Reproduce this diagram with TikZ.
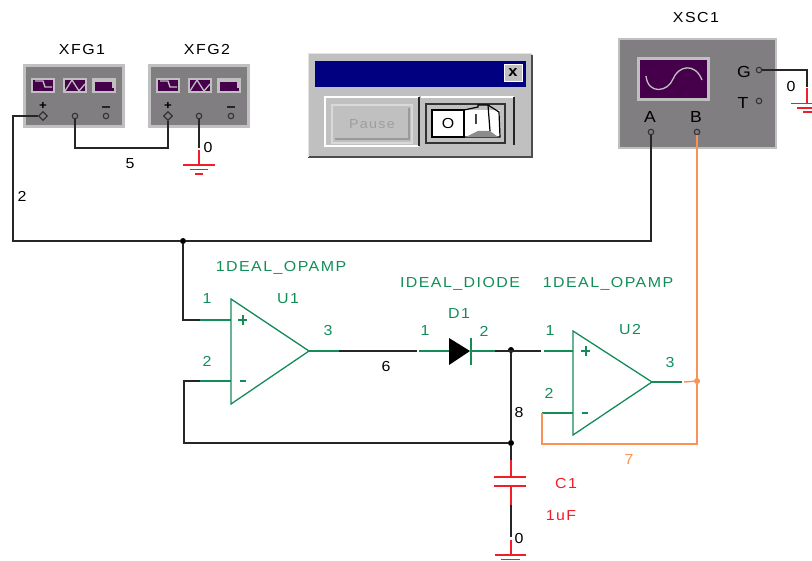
\documentclass[tikz,border=0pt]{standalone}
\usepackage{fontspec}
\usetikzlibrary{shapes.geometric}
\setmainfont[FakeStretch=1.1,LetterSpace=10]{Liberation Sans}
\definecolor{partgreen}{RGB}{20,140,90}
\definecolor{wireorange}{RGB}{250,145,85}
\definecolor{gndred}{RGB}{240,30,40}
\definecolor{boxgray}{RGB}{128,126,128}
\definecolor{framegray}{RGB}{192,192,192}
\definecolor{screenpurple}{RGB}{70,0,75}
\definecolor{titleblue}{RGB}{0,0,128}
\tikzset{
    lbl/.style={inner sep=0pt,font=\fontsize{14.5}{14.5}\selectfont},
    pin/.style={circle,draw=black!80,fill=boxgray,inner sep=0pt,minimum size=5.5pt,line width=1.1pt},
    pinplus/.style={diamond,draw=black!80,fill=boxgray,inner sep=0pt,minimum size=9pt,line width=1.1pt},
    dot/.style={circle,fill=black,inner sep=0pt,minimum size=6pt},
    wire/.style={line width=1.4pt,black!85},
    gwire/.style={line width=1.4pt,partgreen},
    owire/.style={line width=1.4pt,wireorange},
    rwire/.style={line width=1.4pt,gndred},
    part/.style={line width=1.3pt,partgreen},
    genbox/.style={draw=framegray,line width=3pt,fill=boxgray}
}
\begin{document}
\begin{tikzpicture}[x=1pt,y=-1pt]
    \useasboundingbox (0,0) rectangle (812,561);

    % function generators
    \foreach \xo/\name in {0/XFG1,125/XFG2}{
        \draw [genbox] (24+\xo,66) rectangle (123+\xo,127);
        \node [lbl] at (82+\xo,50) {\name};
        \foreach \ico in {32,64,93}{
            \fill [screenpurple] (\ico+\xo,79) rectangle (\ico+22+\xo,92);
            \draw [framegray,line width=1.2pt] (\ico+\xo,79) rectangle (\ico+22+\xo,92);
        }
        \draw [framegray,line width=1.3pt] (35+\xo,81) -- (43+\xo,81) -- (45+\xo,87) -- (52+\xo,87);
        \draw [framegray,line width=1.3pt] (65+\xo,91) -- (72+\xo,80) -- (79+\xo,91) -- (85+\xo,84);
        \draw [framegray,line width=1.3pt] (94+\xo,91) -- (94+\xo,81) -- (113+\xo,81) -- (113+\xo,88);
        \node [lbl,font=\bfseries\fontsize{12}{12}\selectfont] at (43+\xo,106) {+};
        \draw [black!85,line width=1.3pt] (102+\xo,107) -- (110+\xo,107);
    }
    \node [pinplus] (XFG1p) at (43,116) {};
    \node [pin] (XFG1c) at (75,116) {};
    \node [pin] (XFG1m) at (106,116) {};
    \node [pinplus] (XFG2p) at (168,116) {};
    \node [pin] (XFG2c) at (199,116) {};
    \node [pin] (XFG2m) at (231,116) {};

    % run panel
    \fill [framegray] (308,54) rectangle (532,157);
    \draw [black!70,line width=1.3pt] (532,55) -- (532,157) -- (308,157);
    \draw [white!90!black,line width=1pt] (308,157) -- (308,54) -- (532,54);
    \node [fill=titleblue,minimum width=211pt,minimum height=26pt,inner sep=0pt] (title) at (420.5,74) {};
    \node [fill=framegray,draw=white,inner sep=0pt,minimum width=18pt,minimum height=17pt,
        font=\bfseries\fontsize{15}{15}\selectfont] (close) at (513,73) {x};
    \draw [white,line width=1.4pt] (419,97) -| (325,146) -- (419,146);
    \node [draw=white!85!black,fill=framegray,line width=1.5pt,inner sep=0pt,minimum width=80pt,minimum height=38pt,
        text=white!62!black,font=\fontsize{13}{13}\selectfont] (pause) at (372,124) {Pause};
    \draw [black!40,line width=2.5pt] (335,139) -- (409,139) -- (409,108);
    \draw [black!85,line width=1.4pt] (419,97) -- (419,146);
    \draw [white,line width=1.4pt] (421,97) -- (514,97);
    \draw [black!85,line width=1.4pt] (514,97) -- (514,145);
    \draw [black!80,line width=1.4pt,fill=framegray] (426,104) rectangle (505,143);
    \fill [white] (432,110) rectangle (500,137);
    \draw [black,line width=1.2pt] (432,110) rectangle (464,137);
    \draw [black,line width=1.2pt] (464,137) -- (464,110) -- (478,107) -- (478,105) -- (488,105) -- (499,112) -- (500,137) -- (464,137);
    \fill [black!45] (466,137) -- (478,131) -- (490,131) -- (498,137) -- cycle;
    \draw [black,line width=1.2pt] (488,105) -- (490,131);
    \node [lbl] at (448,124) {O};
    \node [lbl] at (476,120) {I};

    % scope
    \fill [boxgray] (619,39) rectangle (776,148);
    \draw [framegray,line width=1.5pt] (619,39) rectangle (776,148);
    \draw [framegray,line width=3pt,fill=screenpurple] (638.5,58.5) rectangle (708,99.5);
    \draw [framegray,line width=1.3pt] (646,76) .. controls (648,95) and (668,92) .. (673,79)
        .. controls (678,66) and (695,62) .. (702,80);
    \node [lbl] at (696,18) {XSC1};
    \node [lbl,font=\fontsize{16}{16}\selectfont] at (744,72) {G};
    \node [lbl,font=\fontsize{16}{16}\selectfont] at (743,103) {T};
    \node [lbl,font=\fontsize{16}{16}\selectfont] at (650,117) {A};
    \node [lbl,font=\fontsize{16}{16}\selectfont] at (696,117) {B};
    \node [pin] (XSCa) at (651,132) {};
    \node [pin] (XSCb) at (697,132) {};
    \node [pin] (XSCg) at (759,70) {};
    \node [pin] (XSCt) at (759,101) {};

    % parts
    \draw [part] (231,299) -- (309,351) -- (231,404) -- cycle;
    \draw [part] (573,331) -- (652,382) -- (573,435) -- cycle;
    \foreach \ax/\ay in {243/320,586/351}{
        \draw [partgreen,line width=2.4pt] (\ax-5,\ay) -- (\ax+4,\ay);
        \draw [partgreen,line width=2.4pt] (\ax,\ay-5) -- (\ax,\ay+5);
    }
    \draw [partgreen,line width=2.4pt] (240,381) -- (246,381);
    \draw [partgreen,line width=2.4pt] (582,413) -- (588,413);
    \fill [black] (449,338) -- (470,351) -- (449,365) -- cycle;
    \draw [partgreen,line width=2.4pt] (471,338) -- (471,365);

    % points along the wires
    \coordinate (U1a) at (231,320);
    \coordinate (U1b) at (231,381);
    \coordinate (U1o) at (309,351);
    \coordinate (U2a) at (573,351);
    \coordinate (U2b) at (573,413);
    \coordinate (U2o) at (652,382);
    \coordinate (D1a) at (449,351);
    \coordinate (D1k) at (471,351);
    \coordinate (c2) at (13,241);
    \coordinate (c5) at (120,148);
    \coordinate (c1a) at (200,320);
    \coordinate (c1b) at (200,381);
    \coordinate (c3) at (184,443);
    \coordinate (c6a) at (339,351);
    \coordinate (c6b) at (417,351);
    \coordinate (c6c) at (419,351);
    \coordinate (c8a) at (495,351);
    \coordinate (c8b) at (541,351);
    \coordinate (c8c) at (544,351);
    \coordinate (c7a) at (542,413);
    \coordinate (c7b) at (542,444);
    \coordinate (c7c) at (697,444);
    \coordinate (c3o) at (682,382);
    \coordinate (c3p) at (684,382);
    \coordinate (C1t) at (511,460);
    \coordinate (C1a) at (511,477);
    \coordinate (C1b) at (511,486);
    \coordinate (C1r) at (511,505);
    \coordinate (C1g) at (511,537);
    \coordinate (C1h) at (511,540);
    \coordinate (G1a) at (199,148);
    \coordinate (G1b) at (199,150);
    \coordinate (G3a) at (807,87);
    \coordinate (G3b) at (807,88);

    \node [dot] (J1) at (183,241) {};
    \node [dot] (J2) at (511,350) {};
    \node [dot] (J3) at (511,443) {};
    \node [dot,fill=wireorange] (J4) at (697,381) {};

    % wires
    \draw [wire] (XFG1p) -| (c2) -- (J1) -| (XSCa);
    \draw [wire] (XFG1c) |- (c5) -| (XFG2p);
    \draw [wire] (J1) |- (c1a);
    \draw [gwire] (c1a) -- (U1a);
    \draw [gwire] (U1b) -- (c1b);
    \draw [wire] (c1b) -| (c3) -- (J3);
    \draw [gwire] (U1o) -- (c6a);
    \draw [wire] (c6a) -- (c6b);
    \draw [gwire] (c6c) -- (D1a);
    \draw [gwire] (D1k) -- (c8a);
    \draw [wire] (c8a) -- (c8b);
    \draw [gwire] (c8c) -- (U2a);
    \draw [wire] (J2) -- (J3) -- (C1t);
    \draw [gwire] (c7a) -- (U2b);
    \draw [gwire] (U2o) -- (c3o);
    \draw [owire] (c3p) -- (J4);
    \draw [owire] (XSCb) -- (J4) -- (c7c) -- (c7b) -- (c7a);

    % capacitor and grounds
    \draw [rwire] (C1t) -- (C1a);
    \draw [rwire] (C1b) -- (C1r);
    \draw [rwire] (494,477) -- (526,477);
    \draw [rwire] (494,486) -- (526,486);
    \draw [wire] (C1r) -- (C1g);
    \draw [rwire] (C1h) -- (511,555);
    \draw [rwire] (495,555) -- (526,555);
    \draw [rwire] (501,559.5) -- (520,559.5);
    \draw [wire] (XFG2c) -- (G1a);
    \draw [rwire] (G1b) -- (199,165);
    \draw [rwire] (183,165) -- (215,165);
    \draw [rwire] (190,169.5) -- (208,169.5);
    \draw [rwire] (195,174) -- (203,174);
    \draw [wire] (XSCg) -| (G3a);
    \draw [rwire] (G3b) -- (807,103);
    \draw [rwire] (791,103.5) -- (812,103.5);
    \draw [rwire] (797,108) -- (812,108);
    \draw [rwire] (803,112) -- (812,112);

    % labels
    \node [lbl] at (130,164) {5};
    \node [lbl] at (22,196) {2};
    \node [lbl] at (208,148) {0};
    \node [lbl] at (791,87) {0};
    \node [lbl] at (386,367) {6};
    \node [lbl] at (519,413) {8};
    \node [lbl] at (519,539) {0};
    \node [lbl,text=wireorange] at (629,460) {7};
    \node [lbl,text=gndred] at (566,484) {C1};
    \node [lbl,text=gndred] at (561,516) {1uF};
    \begin{scope}[every node/.append style={text=partgreen}]
        \node [lbl] at (281,268) {1DEAL\_OPAMP};
        \node [lbl] at (288,299) {U1};
        \node [lbl] at (207,299) {1};
        \node [lbl] at (207,361) {2};
        \node [lbl] at (328,331) {3};
        \node [lbl] at (425,331) {1};
        \node [lbl] at (460,284) {IDEAL\_DIODE};
        \node [lbl] at (459,314) {D1};
        \node [lbl] at (484,331) {2};
        \node [lbl] at (608,284) {1DEAL\_OPAMP};
        \node [lbl] at (630,330) {U2};
        \node [lbl] at (550,331) {1};
        \node [lbl] at (549,393) {2};
        \node [lbl] at (670,363) {3};
    \end{scope}
\end{tikzpicture}
\end{document}
